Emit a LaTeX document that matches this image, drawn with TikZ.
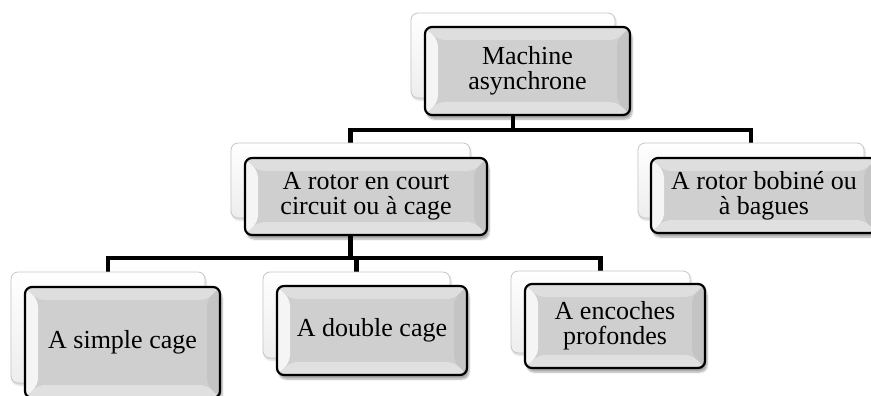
\documentclass[tikz,border=0pt]{standalone}
\usepackage{fontspec}
\setmainfont{Liberation Serif}
\usetikzlibrary{shadows.blur,backgrounds}

\tikzset{
  backbox/.style={rounded corners=7pt, draw=gray!45, line width=0.8pt,
    top color=white, bottom color=gray!14, inner sep=0pt,
    blur shadow={shadow xshift=1pt, shadow yshift=-2pt, shadow opacity=18, shadow blur steps=5}},
  frontbox/.style={rounded corners=7pt, draw=black, line width=2.2pt,
    fill=gray!38, inner sep=0pt, align=center,
    font=\fontsize{26}{25}\selectfont,
    blur shadow={shadow xshift=2pt, shadow yshift=-4pt, shadow opacity=35, shadow blur steps=6},
    path picture={
      \fill[gray!8] (path picture bounding box.south west) -- (path picture bounding box.north west)
        -- ([shift={(13pt,-13pt)}]path picture bounding box.north west)
        -- ([shift={(13pt,13pt)}]path picture bounding box.south west) -- cycle;
      \fill[gray!26] (path picture bounding box.north west) -- (path picture bounding box.north east)
        -- ([shift={(-13pt,-13pt)}]path picture bounding box.north east)
        -- ([shift={(13pt,-13pt)}]path picture bounding box.north west) -- cycle;
      \fill[gray!46] (path picture bounding box.north east) -- (path picture bounding box.south east)
        -- ([shift={(-13pt,13pt)}]path picture bounding box.south east)
        -- ([shift={(-13pt,-13pt)}]path picture bounding box.north east) -- cycle;
      \fill[gray!24] (path picture bounding box.south east) -- (path picture bounding box.south west)
        -- ([shift={(13pt,13pt)}]path picture bounding box.south west)
        -- ([shift={(-13pt,13pt)}]path picture bounding box.south east) -- cycle;
    }},
  conn/.style={line width=4.6pt, draw=black}
}

\begin{document}
\begin{tikzpicture}[x=1pt, y=-1pt]
\useasboundingbox (0,0) rectangle (871,396);

% back boxes
\node[backbox, minimum width=204pt, minimum height=85pt] (b0) at (513,55.5) {};
\node[backbox, minimum width=239pt, minimum height=75pt] (b1) at (350.5,180.5) {};
\node[backbox, minimum width=226pt, minimum height=75pt] (b2) at (751,180.5) {};
\node[backbox, minimum width=194pt, minimum height=111pt] (b3) at (108,327.5) {};
\node[backbox, minimum width=187pt, minimum height=86pt] (b4) at (356.5,315) {};
\node[backbox, minimum width=179pt, minimum height=82pt] (b5) at (600.5,312) {};

% front boxes
\node[frontbox, minimum width=205pt, minimum height=88pt] (f0) at (527.5,71) {Machine\\asynchrone};
\node[frontbox, minimum width=242pt, minimum height=77pt] (f1) at (366,196.5) {A rotor en court\\circuit ou à cage};
\node[frontbox, minimum width=226pt, minimum height=75pt] (f2) at (764,195.5) {A rotor bobiné ou\\à bagues};
\node[frontbox, minimum width=195pt, minimum height=111pt] (f3) at (122.5,342.5) {A simple cage};
\node[frontbox, minimum width=190pt, minimum height=89pt] (f4) at (372,330.5) {A double cage};
\node[frontbox, minimum width=180pt, minimum height=84pt] (f5) at (615,326) {A encoches\\profondes};

% junctions
\coordinate (j0) at (513,130);
\coordinate (j1) at (350.5,258);

\begin{pgfonlayer}{background}
  \draw[conn] (b0.center) |- (j0) -| (b1.north);
  \draw[conn] (j0) -| (b2.north);
  \draw[conn] (b1.center) |- (j1) -| (b3.north);
  \draw[conn] (j1) -| (b4.north);
  \draw[conn] (j1) -| (b5.north);
\end{pgfonlayer}
\end{tikzpicture}
\end{document}
